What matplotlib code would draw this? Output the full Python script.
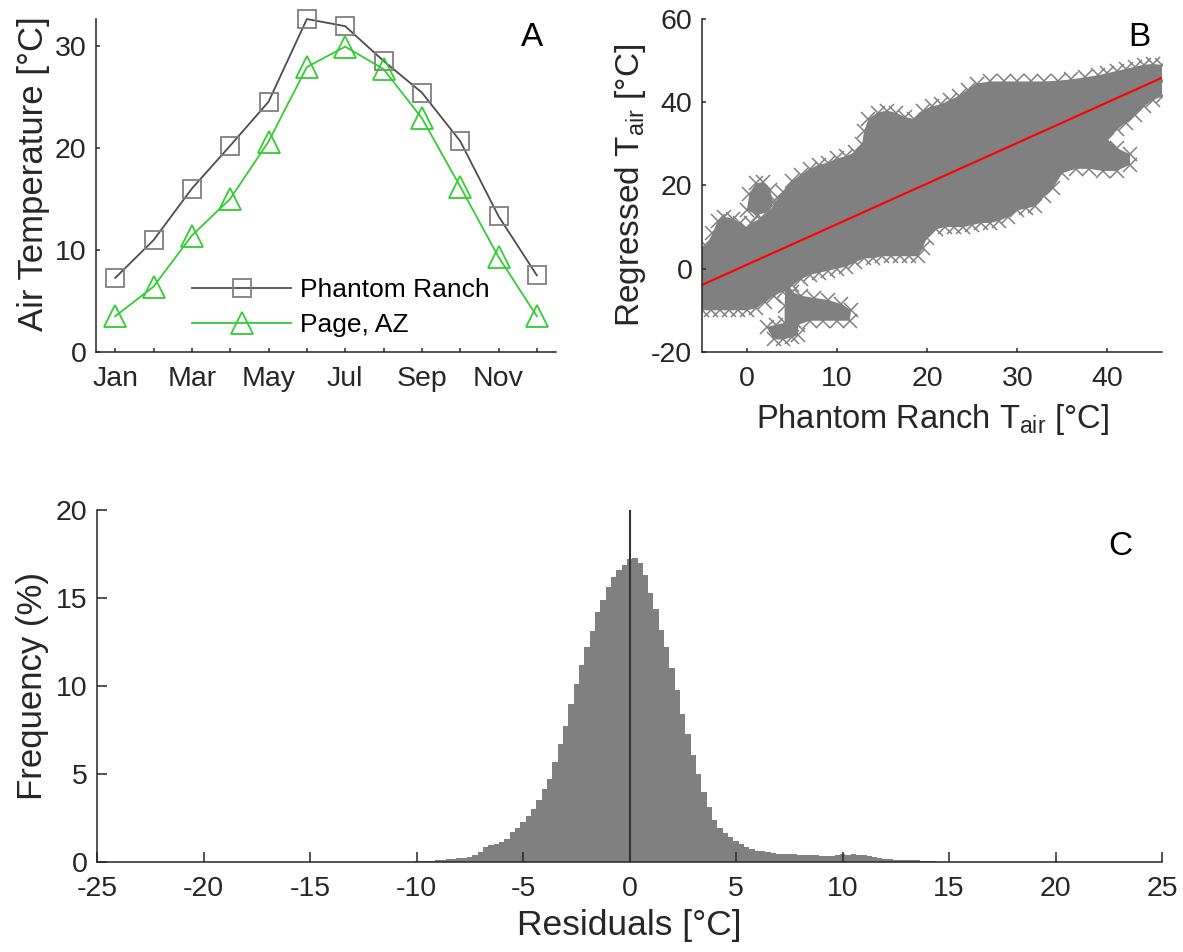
import matplotlib
matplotlib.use("Agg")
import matplotlib.pyplot as plt
import numpy as np

plt.rcParams['font.family'] = ['Liberation Sans', 'DejaVu Sans']
plt.rcParams['mathtext.fontset'] = 'custom'
plt.rcParams['mathtext.rm'] = 'Liberation Sans'
plt.rcParams['mathtext.it'] = 'Liberation Sans'
plt.rcParams['axes.unicode_minus'] = False

# Panel A: monthly mean air temperature
months = list(range(1, 13))
month_labels = ['Jan', '', 'Mar', '', 'May', '', 'Jul', '', 'Sep', '', 'Nov', '']
phantom_ranch = [7.25, 10.95, 16.0, 20.2, 24.5, 32.6, 31.9, 28.5, 25.4, 20.65, 13.3, 7.5]
page_az = [3.5, 6.4, 11.4, 15.0, 20.6, 27.9, 29.9, 27.7, 22.9, 16.2, 9.3, 3.5]

# Panel B: outline of the scatter cloud and regression line
cloud_x = [-5.0, -4.5, -3.8, -3.2, -2.5, -1.5, -0.8, 0.0, 0.5, 1.5, 2.5, 3.2, 4.0, 5.0,
           6.0, 7.0, 8.0, 9.0, 10.0, 11.0, 12.0, 12.8, 13.0, 13.5, 14.5, 15.5, 16.5,
           17.5, 18.5, 19.5, 20.5, 21.5, 22.5, 23.5, 24.5, 25.5, 27.0, 28.5, 30.0, 31.5,
           33.0, 34.5, 36.0, 37.5, 39.0, 40.0, 41.0, 42.0, 43.0, 44.0, 45.0, 46.0,
           46.2, 46.2,
           45.0, 44.0, 43.0, 42.0, 41.0, 40.0, 41.0, 42.5, 42.5, 41.0, 39.5, 38.0, 36.5,
           35.0, 34.0, 33.0, 32.0, 31.0, 30.0, 29.0, 28.0, 27.0, 26.0, 25.0, 24.0, 23.0,
           22.0, 21.0, 20.0, 19.5, 19.0, 18.0, 17.0, 16.0, 15.0, 14.0, 13.0, 12.0, 11.0,
           10.0, 9.0, 8.0, 7.0, 6.0, 5.0, 4.0, 3.0, 2.0, 1.0, 0.0, -1.0, -2.0, -3.0,
           -4.0, -5.0]
cloud_y = [5.1, 5.5, 8.5, 11.5, 12.5, 12.0, 11.0, 9.5, 11.0, 12.0, 13.5, 16.0, 18.5, 21.0,
           22.5, 24.0, 25.0, 25.5, 26.5, 27.0, 28.0, 30.0, 33.0, 36.0, 37.5, 38.0, 37.5,
           36.5, 36.0, 38.0, 39.0, 39.5, 40.5, 41.5, 43.0, 44.5, 45.0, 45.0, 45.0, 45.0,
           45.0, 45.2, 45.5, 46.0, 46.5, 47.0, 47.5, 48.0, 48.5, 49.0, 49.2, 49.0,
           45.0, 41.5,
           40.5, 39.0, 37.0, 35.0, 33.5, 31.0, 29.0, 27.5, 25.0, 23.5, 23.5, 24.0, 24.0,
           23.0, 19.5, 17.5, 15.0, 14.5, 14.0, 12.5, 11.5, 11.0, 11.0, 10.5, 10.0, 10.0,
           10.0, 9.5, 7.5, 5.0, 3.0, 3.0, 3.0, 3.0, 3.0, 2.5, 2.5, 1.5, 0.5,
           0.0, -0.5, -1.0, -1.5, -2.5, -4.0, -5.5, -6.5, -8.0, -9.5, -10.0, -10.0, -10.0, -10.0,
           -10.0, -10.0]
low_blob_x = [2.2, 3.2, 4.2, 4.2, 4.3, 5.0, 6.0, 7.5, 9.0, 10.5, 11.6, 11.4, 10.0, 8.5,
              7.0, 5.7, 5.7, 5.0, 4.0, 3.0]
low_blob_y = [-14.0, -13.5, -13.0, -9.0, -4.0, -5.5, -6.5, -7.0, -7.5, -8.5, -10.0,
              -12.5, -12.5, -12.5, -12.5, -13.5, -16.0, -16.5, -17.0, -17.0]
top_blob_x = [0.0, 0.3, 1.0, 1.8, 2.6, 2.9, 2.5, 1.2]
top_blob_y = [14.0, 18.0, 20.5, 20.8, 19.0, 16.0, 13.6, 13.0]
reg_x = [-4.96, 46.05]
reg_y = [-3.9, 45.9]

# Panel C: residual histogram (bin centres every 0.25 degC, frequency in %)
bin_centers = np.arange(-10.0, 15.01, 0.25)
freq = [0.05, 0.05, 0.06, 0.08, 0.10, 0.12, 0.16, 0.19, 0.22, 0.25, 0.30, 0.40, 0.55,
        0.85, 0.95, 1.05, 1.15, 1.30, 1.70, 1.95, 2.25, 2.60, 3.00, 3.50, 4.15, 4.70,
        5.70, 6.70, 7.70, 9.00, 10.1, 11.2, 12.2, 13.1, 14.2, 14.9, 15.6, 16.2, 16.6,
        16.9, 17.2, 17.25, 17.0, 16.3, 15.3, 14.4, 13.2, 12.2, 11.0, 9.8, 8.4, 7.3,
        6.1, 5.0, 4.0, 3.1, 2.4, 1.95, 1.65, 1.40, 1.20, 1.00, 0.85, 0.72, 0.65, 0.60,
        0.55, 0.52, 0.48, 0.45, 0.44, 0.43, 0.42, 0.42, 0.40, 0.38, 0.35, 0.33, 0.35,
        0.40, 0.45, 0.42, 0.43, 0.42, 0.40, 0.32, 0.27, 0.22, 0.19, 0.16, 0.14, 0.13,
        0.12, 0.10, 0.09, 0.07, 0.06, 0.04, 0.03, 0.02, 0.01]

axis_col = '#262626'
gray = '#808080'

fig = plt.figure(figsize=(11.83, 9.52), dpi=100)
axA = fig.add_axes([0.0812, 0.6303, 0.3888, 0.3497])
axB = fig.add_axes([0.5934, 0.6303, 0.3889, 0.3497])
axC = fig.add_axes([0.0820, 0.0945, 0.9003, 0.3698])


def style(ax, tick_len):
    for s in ['top', 'right']:
        ax.spines[s].set_visible(False)
    for s in ['left', 'bottom']:
        ax.spines[s].set_color(axis_col)
        ax.spines[s].set_linewidth(1.1)
    ax.tick_params(direction='in', length=tick_len, width=1.1, color=axis_col,
                   labelcolor=axis_col, labelsize=20.5)
    ax.tick_params(axis='x', pad=10)
    ax.tick_params(axis='y', pad=7)


# Panel A
axA.plot(months, phantom_ranch, color='#4d4d4d', lw=1.3, marker='s', ms=13,
         mfc='none', mec='#7f7f7f', mew=1.3, label='Phantom Ranch', clip_on=False)
axA.plot(months, page_az, color='#33cc33', lw=1.3, marker='^', ms=16,
         mfc='none', mec='#33cc33', mew=1.3, label='Page, AZ', clip_on=False)
axA.set_xlim(0.5, 12.5)
axA.set_ylim(0, max(phantom_ranch))
axA.set_xticks(months)
axA.set_xticklabels(month_labels)
axA.set_yticks([0, 10, 20, 30])
style(axA, 3)
axA.set_ylabel('Air Temperature [°C]', fontsize=25, color=axis_col, labelpad=4)
axA.yaxis.set_label_coords(-0.10, 0.535)
axA.legend(loc='lower left', bbox_to_anchor=(0.18, 0.005), frameon=False, fontsize=19,
           handlelength=3.75, handletextpad=0.35, labelspacing=0.42, borderpad=0)
axA.text(0.948, 0.946, 'A', transform=axA.transAxes, fontsize=24, ha='center', va='center')

# Panel B
for bx, by in [(cloud_x, cloud_y), (low_blob_x, low_blob_y), (top_blob_x, top_blob_y)]:
    axB.fill(bx, by, color=gray, lw=0)
    axB.plot(bx, by, 'x', color=gray, ms=10, mew=1.1)
axB.plot(reg_x, reg_y, color='red', lw=1.5)
axB.set_xlim(-4.96, 46.05)
axB.set_ylim(-20, 60)
axB.set_xticks([0, 10, 20, 30, 40])
axB.set_yticks([-20, 0, 20, 40, 60])
style(axB, 3)
axB.set_xlabel(r'Phantom Ranch T$_{\mathrm{air}}$ [°C]', fontsize=23.5, color=axis_col, labelpad=7)
axB.set_ylabel(r'Regressed T$_{\mathrm{air}}$ [°C]', fontsize=24, color=axis_col, labelpad=2)
axB.text(0.95, 0.946, 'B', transform=axB.transAxes, fontsize=24, ha='center', va='center')

# Panel C
axC.bar(bin_centers, freq, width=0.25, color=gray, lw=0)
axC.axvline(0, color='#333333', lw=1.5)
axC.set_xlim(-25, 25)
axC.set_ylim(0, 20)
axC.set_xticks(np.arange(-25, 26, 5))
axC.set_yticks([0, 5, 10, 15, 20])
style(axC, 7.5)
axC.set_xlabel('Residuals [°C]', fontsize=25.5, color=axis_col, labelpad=5)
axC.set_ylabel('Frequency (%)', fontsize=25, color=axis_col, labelpad=5)
axC.text(0.961, 0.895, 'C', transform=axC.transAxes, fontsize=24, ha='center', va='center')

fig.savefig('out.png', dpi=100)
